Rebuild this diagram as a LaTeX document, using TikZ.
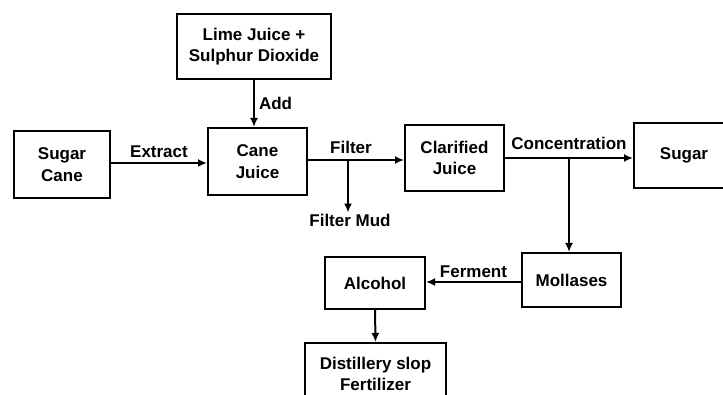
\documentclass[tikz,border=0pt]{standalone}
\usepackage{fontspec}
\setmainfont{Liberation Sans}
\usetikzlibrary{arrows.meta}

\begin{document}
\begin{tikzpicture}[x=1pt,y=-1pt,
  box/.style={draw,line width=2pt,align=center,inner sep=0pt,
   font=\bfseries\fontsize{17}{21.5}\selectfont},
  lbl/.style={font=\bfseries\fontsize{17}{21.5}\selectfont,inner sep=1pt},
  arr/.style={line width=2pt,-{Latex[length=9pt,width=8pt]}}]
 \useasboundingbox (0,0) rectangle (723,395);
 % boxes
 \node[box,minimum width=96pt,minimum height=67pt] (sugarcane) at (62,164.5) {Sugar\\Cane};
 \node[box,minimum width=99pt,minimum height=67pt] (canejuice) at (257.5,161.5) {Cane\\Juice};
 \node[box,minimum width=154pt,minimum height=65pt] (lime) at (254,46.5) {Lime Juice +\\Sulphur Dioxide};
 \node[box,minimum width=99pt,minimum height=66pt] (clarified) at (454.5,158) {Clarified\\Juice};
 \node[box,minimum width=100pt,minimum height=65pt] (sugar) at (684,155.5) {Sugar};
 \node[box,minimum width=99pt,minimum height=54pt] (mollases) at (571.5,280) {Mollases};
 \node[box,minimum width=100pt,minimum height=52pt] (alcohol) at (375,283) {Alcohol};
 \node[box,minimum width=141pt,minimum height=62pt] (slop) at (375.5,374) {Distillery slop\\Fertilizer};
 \node[lbl] (mud) at (350,220) {Filter Mud};
 % connectors
 \draw[arr] (lime.south) -- (lime.south |- canejuice.north)
   node[lbl,midway,right=3pt] {Add};
 \draw[arr] (sugarcane.east |- 0,163) -- (canejuice.west |- 0,163)
   node[lbl,midway,above=3pt] {Extract};
 \coordinate (split) at (348,160);
 \draw[arr] (canejuice.east |- split) -- (clarified.west |- split);
 \node[lbl] at (351,147) {Filter};
 \draw[arr] (split) -- (split |- mud.north);
 \coordinate (branch) at (569,158);
 \draw[arr] (clarified.east |- branch) -- (sugar.west |- branch);
 \node[lbl] at (569,143) {Concentration};
 \draw[arr] (branch) -- (branch |- mollases.north);
 \draw[arr] (mollases.west |- 0,282) -- (alcohol.east |- 0,282)
   node[lbl,midway,above=2pt] {Ferment};
 \draw[arr] (alcohol.south) -- (slop.north);
\end{tikzpicture}
\end{document}
